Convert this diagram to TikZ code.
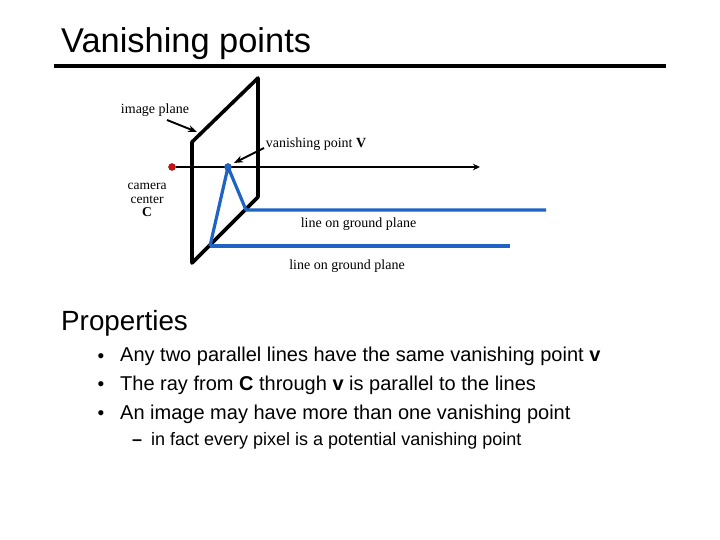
\documentclass[tikz,border=0pt]{standalone}
\usepackage{fontspec}
\setmainfont{Liberation Sans}
\newfontfamily\labelfont{Liberation Serif}
\usetikzlibrary{
  arrows.meta,
  positioning
}
\definecolor{RayBlue}{HTML}{1F63C4}
\definecolor{CamRed}{HTML}{C81414}
\tikzset{
  % Slide heading
  heading/.style={anchor=base west, inner sep=0pt, font=\fontsize{34.4}{36}\selectfont},
  % Serif label in the figure
  lbl/.style={inner sep=0pt, align=center, font=\labelfont\fontsize{14}{14.5}\selectfont},
  % Bullet text
  item/.style={anchor=base west, inner sep=0pt, font=\fontsize{#1}{#1}\selectfont},
  item/.default=20,
  % Dots on the ray
  pnt/.style={circle, inner sep=0pt, minimum size=7pt, fill=#1, draw=#1!70!black, line width=0.4pt},
  % Pointer from a label
  arr/.style={-{Stealth[length=9pt,width=7pt]}, line width=1.9pt},
  % Plane frame
  frame/.style={line width=3.6pt, line join=round, line cap=round},
  % Blue ground line
  blu/.style={line width=3.2pt, color=RayBlue, line join=round}
}
\begin{document}
\begin{tikzpicture}[x=1pt,y=-1pt]
  \useasboundingbox (0,0) rectangle (720,540);

  % ---- TITLE ----
  \node[heading] (title) at (61,52.5) {Vanishing points};
  \coordinate (ruleL) at (54,66);
  \coordinate (ruleR) at (666,66);
  \draw[line width=3.6pt] (ruleL) -- (ruleR);

  % ---- IMAGE PLANE ----
  \coordinate (pa) at (192,142);
  \coordinate (pb) at (258,78);
  \coordinate (pc) at (258,197);
  \coordinate (pd) at (192,263);
  \draw[frame] (pa) -- (pb) -- (pc) -- (pd) -- cycle;

  % ---- RAY ----
  \node[pnt=CamRed]   (cam) at (172,167) {};
  \coordinate (rayend) at (480,167);
  \coordinate (vp) at (228,167);
  \draw[-{Stealth[length=7pt,width=6.5pt]}, line width=2.1pt] (cam) -- (rayend);

  % ---- GROUND LINES ----
  \coordinate (ga) at (246,210);
  \coordinate (gb) at (210,246);
  \coordinate (gc) at (546,210);
  \coordinate (gd) at (510,246);
  \draw[blu] (gb) -- (vp) -- (ga) -- (gc);
  \draw[blu] (gb) -- (gd);
  \node[pnt=RayBlue] (vpdot) at (vp) {};

  % ---- LABELS ----
  \node[lbl] (planelbl) at (155,110) {image plane};
  \node[lbl] (vplbl)    at (316,144) {vanishing point \textbf{V}};
  \node[lbl, font=\labelfont\fontsize{13.5}{13.5}\selectfont] (camlbl) at (147,200) {camera\\center\\\textbf{C}};
  \node[lbl] (glbl)     at (358.5,224) {line on ground plane};
  \node[lbl] (hlbl)     at (347,266.5) {line on ground plane};

  \coordinate (planetail) at (167,120);
  \coordinate (planetip)  at (197,132);
  \coordinate (vptail)    at (264,148);
  \coordinate (vptip)     at (234,163);
  \draw[arr] (planetail) -- (planetip);
  \draw[arr] (vptail) -- (vptip);

  % ---- PROPERTIES ----
  \node[heading, font=\fontsize{27.8}{30}\selectfont] (props) at (61,330) {Properties};
  \node[item=19] (b1) at (97.5,362) {•};
  \node[item] (t1) at (120,361) {Any two parallel lines have the same vanishing point \textbf{v}};
  \node[item=19] (b2) at (97.5,390.5) {•};
  \node[item] (t2) at (120,390) {The ray from \textbf{C} through \textbf{v} is parallel to the lines};
  \node[item=19] (b3) at (97.5,419) {•};
  \node[item] (t3) at (120,419) {An image may have more than one vanishing point};
  \node[item=18] (b4) at (132,445) {\textbf{–}};
  \node[item=18] (t4) at (151,445) {in fact every pixel is a potential vanishing point};

\end{tikzpicture}
\end{document}
